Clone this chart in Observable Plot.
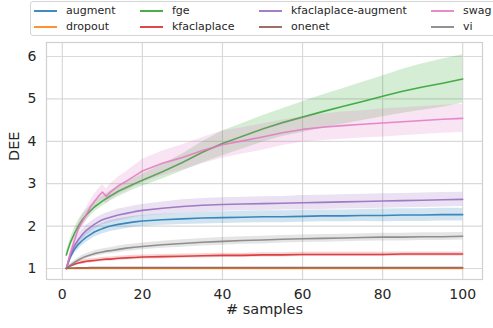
<!DOCTYPE html>
<html><head><meta charset="utf-8">
<script src="https://cdn.jsdelivr.net/npm/d3@7"></script>
<script src="https://cdn.jsdelivr.net/npm/@observablehq/plot@0.6"></script>
<style>
body{margin:0;width:493px;height:328px;overflow:hidden;background:#fff;font-family:"DejaVu Sans",sans-serif;}
#legendRow{position:relative;width:493px;height:40px;}
#legendBox{position:absolute;left:30px;top:1px;width:490px;height:35px;border:1px solid #d4d4d4;border-radius:3px;box-sizing:border-box;}
.item{position:absolute;height:14px;font-size:11px;line-height:14px;color:#262626;white-space:nowrap;}
.item .h{position:absolute;left:0;top:6px;width:23px;height:2px;opacity:0.85;}
.item .t{position:absolute;left:32px;top:0;}
</style>
</head><body>
<div id="legendRow"><div id="legendBox"></div></div>
<div id="chart"></div>
<script>
const samples = [1,2,3,4,5,6,7,8,9,10,11,12,14,16,18,20,25,30,35,40,45,50,55,60,65,70,75,80,85,90,95,100];
const seriesNames = ["augment","dropout","fge","kfaclaplace","kfaclaplace-augment","onenet","swag","vi"];
const seriesColors = ["#1f77b4","#ff7f0e","#2ca02c","#d62728","#9467bd","#8c564b","#e377c2","#7f7f7f"];
const xTicks = [0,20,40,60,80,100];
const yTicks = [1,2,3,4,5,6];

const augment = [1.00,1.27,1.45,1.57,1.66,1.74,1.80,1.86,1.90,1.94,1.97,2.00,2.04,2.07,2.10,2.12,2.15,2.17,2.19,2.20,2.21,2.22,2.22,2.23,2.24,2.24,2.25,2.25,2.26,2.26,2.27,2.27];
const augmentSpread = [0.02,0.08,0.11,0.12,0.12,0.12,0.12,0.12,0.12,0.12,0.13,0.13,0.13,0.13,0.13,0.13,0.13,0.13,0.14,0.14,0.14,0.14,0.14,0.14,0.14,0.14,0.14,0.15,0.15,0.15,0.15,0.15];
const dropout = [1.00,1.00,1.00,1.00,1.00,1.00,1.00,1.00,1.00,1.00,1.00,1.00,1.00,1.00,1.00,1.00,1.00,1.00,1.00,1.00,1.00,1.00,1.00,1.00,1.00,1.00,1.00,1.00,1.00,1.00,1.00,1.00];
const dropoutSpread = [0.00,0.00,0.00,0.00,0.00,0.00,0.00,0.00,0.00,0.00,0.00,0.00,0.00,0.00,0.00,0.00,0.00,0.00,0.00,0.00,0.00,0.00,0.00,0.00,0.00,0.00,0.00,0.00,0.00,0.00,0.00,0.00];
const fge = [1.32,1.61,1.82,2.00,2.15,2.26,2.36,2.45,2.52,2.59,2.65,2.71,2.82,2.91,3.00,3.08,3.28,3.50,3.74,3.95,4.12,4.29,4.44,4.57,4.70,4.82,4.94,5.06,5.18,5.28,5.37,5.47];
const fgeSpread = [0.06,0.10,0.12,0.13,0.13,0.12,0.12,0.12,0.12,0.12,0.12,0.12,0.13,0.13,0.13,0.14,0.17,0.20,0.25,0.29,0.30,0.31,0.33,0.36,0.39,0.42,0.45,0.48,0.52,0.55,0.57,0.57];
const kfaclaplace = [1.00,1.06,1.10,1.13,1.15,1.17,1.18,1.19,1.20,1.21,1.22,1.22,1.24,1.25,1.26,1.27,1.28,1.29,1.30,1.31,1.31,1.32,1.32,1.33,1.33,1.33,1.33,1.33,1.34,1.34,1.34,1.34];
const kfaclaplaceSpread = [0.01,0.03,0.04,0.04,0.05,0.05,0.05,0.05,0.05,0.05,0.05,0.05,0.05,0.05,0.05,0.05,0.05,0.05,0.05,0.05,0.05,0.05,0.05,0.05,0.05,0.05,0.05,0.05,0.05,0.05,0.05,0.05];
const kfaclaplaceAugment = [1.00,1.31,1.53,1.68,1.80,1.90,1.97,2.04,2.10,2.15,2.18,2.21,2.26,2.30,2.34,2.37,2.42,2.46,2.49,2.51,2.52,2.53,2.54,2.55,2.56,2.57,2.58,2.59,2.60,2.61,2.62,2.63];
const kfaclaplaceAugmentSpread = [0.02,0.08,0.11,0.12,0.12,0.12,0.12,0.12,0.12,0.12,0.13,0.13,0.14,0.14,0.14,0.14,0.15,0.16,0.16,0.16,0.16,0.16,0.16,0.17,0.17,0.17,0.17,0.17,0.17,0.17,0.17,0.17];
const onenet = [1.00,1.01,1.01,1.015,1.015,1.015,1.02,1.02,1.02,1.02,1.02,1.02,1.02,1.02,1.02,1.02,1.02,1.02,1.02,1.02,1.02,1.02,1.02,1.02,1.02,1.02,1.02,1.02,1.02,1.02,1.02,1.02];
const onenetSpread = [0.00,0.005,0.005,0.005,0.005,0.005,0.005,0.005,0.005,0.005,0.005,0.005,0.005,0.005,0.005,0.005,0.005,0.005,0.005,0.005,0.005,0.005,0.005,0.005,0.005,0.005,0.005,0.005,0.005,0.005,0.005,0.005];
const swag = [1.00,1.35,1.66,1.93,2.11,2.27,2.45,2.58,2.70,2.80,2.70,2.80,2.95,3.06,3.18,3.30,3.48,3.62,3.78,3.92,4.01,4.10,4.20,4.28,4.33,4.37,4.40,4.43,4.46,4.49,4.52,4.54];
const swagSpread = [0.02,0.08,0.12,0.14,0.15,0.16,0.16,0.17,0.17,0.18,0.18,0.19,0.21,0.23,0.25,0.27,0.29,0.30,0.31,0.32,0.31,0.31,0.30,0.30,0.31,0.32,0.32,0.33,0.33,0.33,0.33,0.33];
const vi = [1.00,1.07,1.14,1.20,1.25,1.29,1.32,1.35,1.37,1.39,1.41,1.42,1.45,1.48,1.50,1.52,1.56,1.59,1.62,1.64,1.66,1.67,1.69,1.70,1.71,1.72,1.73,1.74,1.74,1.75,1.75,1.76];
const viSpread = [0.01,0.04,0.05,0.05,0.06,0.06,0.06,0.07,0.07,0.07,0.07,0.07,0.08,0.08,0.08,0.08,0.08,0.09,0.09,0.09,0.09,0.09,0.09,0.09,0.09,0.09,0.09,0.09,0.09,0.09,0.09,0.09];

const means = [augment, dropout, fge, kfaclaplace, kfaclaplaceAugment, onenet, swag, vi];
const spreads = [augmentSpread, dropoutSpread, fgeSpread, kfaclaplaceSpread, kfaclaplaceAugmentSpread, onenetSpread, swagSpread, viSpread];

// legend
const box = document.getElementById("legendBox");
const colX = [3, 109, 228, 400];
const rowY = [2, 18];
seriesNames.forEach((name, i) => {
  const col = Math.floor(i / 2), row = i % 2;
  const it = document.createElement("div");
  it.className = "item";
  it.style.left = colX[col] + "px";
  it.style.top = rowY[row] + "px";
  it.innerHTML = `<span class="h" style="background:${seriesColors[i]}"></span><span class="t">${name}</span>`;
  box.appendChild(it);
});

const marks = [
  Plot.gridX(xTicks, {stroke: "#d9d9d9", strokeOpacity: 1, strokeWidth: 1.2}),
  Plot.gridY(yTicks, {stroke: "#d9d9d9", strokeOpacity: 1, strokeWidth: 1.2}),
  Plot.frame({stroke: "#d0d0d0", strokeWidth: 1.2})
];
seriesNames.forEach((name, i) => {
  const rows = samples.map((x, j) => ({x, y: means[i][j], lo: means[i][j] - spreads[i][j], hi: means[i][j] + spreads[i][j]}));
  marks.push(Plot.areaY(rows, {x: "x", y1: "lo", y2: "hi", fill: seriesColors[i], fillOpacity: 0.2}));
  marks.push(Plot.lineY(rows, {x: "x", y: "y", stroke: seriesColors[i], strokeWidth: 1.6, strokeOpacity: 0.85}));
});
marks.push(
  Plot.axisX(xTicks, {tickSize: 0, tickPadding: 10, fontSize: 14, label: null}),
  Plot.axisY(yTicks, {tickSize: 0, tickPadding: 10, fontSize: 14, label: null}),
  Plot.text(["# samples"], {frameAnchor: "bottom", dy: 34, fontSize: 14.5, fill: "#262626"}),
  Plot.text(["DEE"], {frameAnchor: "left", dx: -32, rotate: -90, fontSize: 14.5, fill: "#262626"})
);

const plot = Plot.plot({
  width: 493,
  height: 288,
  marginTop: 2,
  marginBottom: 49,
  marginLeft: 46,
  marginRight: 11,
  x: {domain: [-3.95, 104.95]},
  y: {domain: [0.74, 6.33]},
  style: {fontFamily: "DejaVu Sans", color: "#262626", background: "#fff", overflow: "visible"},
  marks
});
document.getElementById("chart").appendChild(plot);
</script>
</body></html>
